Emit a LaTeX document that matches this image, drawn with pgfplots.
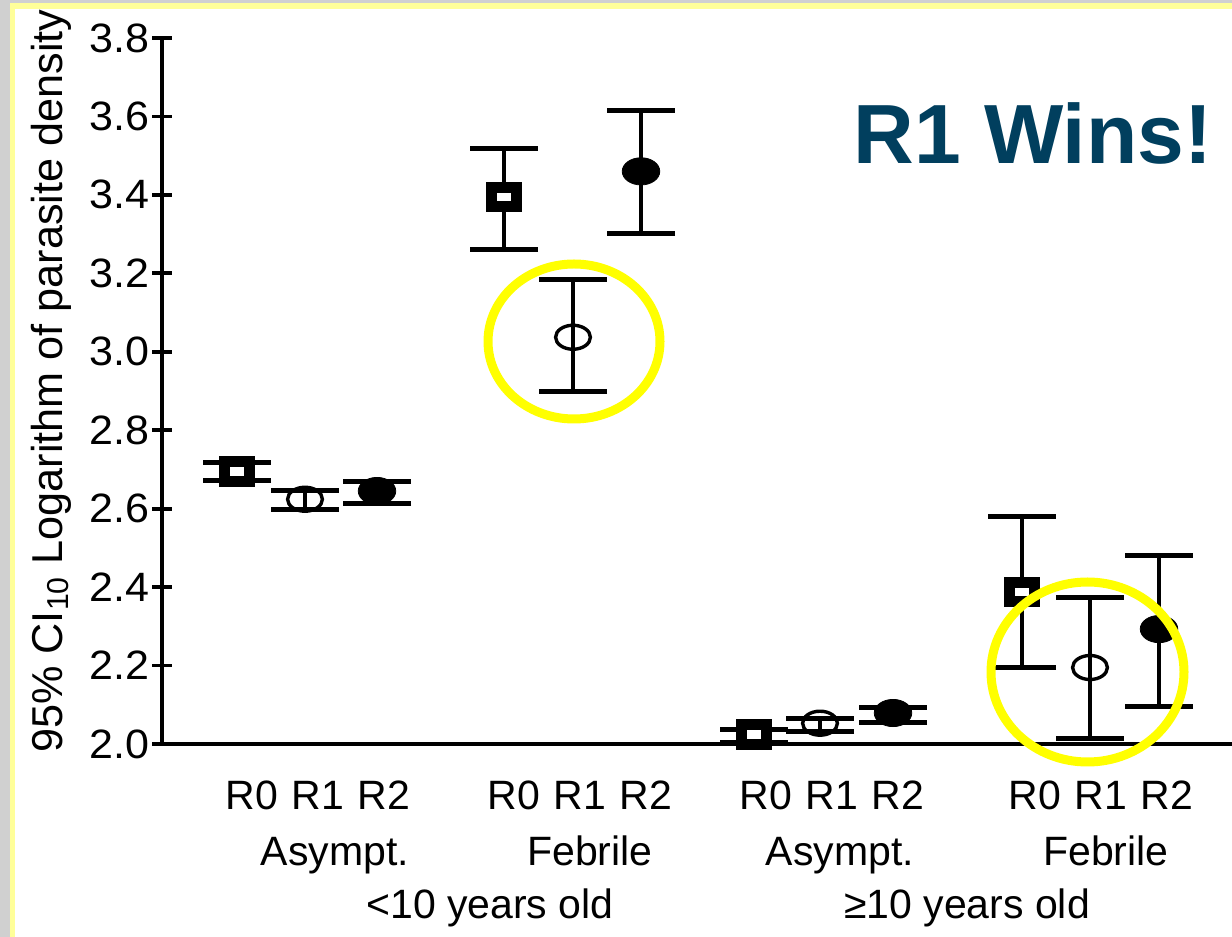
\documentclass[border=0pt]{standalone}
\usepackage{fontspec}
\setmainfont{Liberation Sans}
\usepackage{pgfplots}
\pgfplotsset{compat=1.18}
\usepackage{pgfplotstable}
\definecolor{titleblue}{RGB}{1,63,94}
\definecolor{frameyellow}{RGB}{255,255,153}
\definecolor{framegray}{RGB}{208,208,208}
\definecolor{hiyellow}{RGB}{255,255,0}

% x in picture columns, y = estimate, ep/em = upper/lower CI distance
\pgfplotstableread{
x y ep em
237 2.695 0.022 0.022
504 3.394 0.124 0.133
754 2.024 0.014 0.019
1022 2.387 0.192 0.193
}\rzero
\pgfplotstableread{
x y ep em
305 2.624 0.023 0.025
573 3.037 0.148 0.138
820 2.053 0.011 0.022
1090 2.195 0.178 0.182
}\rone
\pgfplotstableread{
x y ep em
377 2.645 0.023 0.031
641 3.460 0.155 0.158
893 2.079 0.013 0.023
1159 2.293 0.188 0.198
}\rtwo

\pgfplotsset{ebar/.style={draw=none, mark=none,
  error bars/.cd, y dir=both, y explicit,
  error bar style={draw=black, line width=2bp},
  error mark options={draw=black, line width=2.5bp, mark size=17bp, rotate=90}}}

\begin{document}
\begin{tikzpicture}
\useasboundingbox (0,0) rectangle (616bp,468.5bp);
\clip (0,0) rectangle (616bp,468.5bp);
\fill[white] (0,0) rectangle (616bp,468.5bp);
\fill[framegray] (0,0) rectangle (5bp,468.5bp);
\fill[framegray] (0,467bp) rectangle (616bp,468.5bp);
\fill[frameyellow] (5bp,0) rectangle (7.5bp,467bp);
\fill[frameyellow] (5bp,464bp) rectangle (616bp,467bp);

\begin{axis}[
  at={(81bp,96.5bp)}, anchor=south west,
  scale only axis, width=535bp, height=353bp,
  xmin=162, xmax=1232, ymin=2, ymax=3.8,
  axis x line=bottom, axis y line=left,
  axis line style={-, line width=1.9bp, black},
  ytick={2,2.2,2.4,2.6,2.8,3,3.2,3.4,3.6,3.8},
  /pgf/number format/assume math mode=true,
  yticklabel style={font=\fontsize{20.5bp}{24bp}\selectfont, inner sep=1bp, xscale=1.05,
    /pgf/number format/fixed, /pgf/number format/fixed zerofill,
    /pgf/number format/precision=1},
  tick align=center, major tick length=10bp,
  y tick style={line width=1.9bp, black},
  xtick={252,318,384,514,580,646,766,832,898,1035,1101,1167},
  xticklabels={R0,R1,R2,R0,R1,R2,R0,R1,R2,R0,R1,R2},
  x tick style={draw=none},
  xticklabel style={font=\fontsize{20.5bp}{24bp}\selectfont, anchor=base, inner sep=0pt, yshift=-28bp},
  clip=false,
]
\addplot[only marks, mark=square*, mark size=4.8bp,
  mark options={fill=white, draw=black, line width=5.5bp, xscale=1.3}]
  table[x=x, y=y]{\rzero};
\addplot[only marks, mark=o, mark size=6bp,
  mark options={fill=white, draw=black, line width=1.7bp, xscale=1.45}]
  table[x=x, y=y]{\rone};
\addplot[only marks, mark=*, mark size=6.8bp,
  mark options={fill=black, draw=black, xscale=1.38}]
  table[x=x, y=y]{\rtwo};
\addplot[ebar] table[x=x, y=y, y error plus=ep, y error minus=em]{\rzero};
\addplot[ebar] table[x=x, y=y, y error plus=ep, y error minus=em]{\rone};
\addplot[ebar] table[x=x, y=y, y error plus=ep, y error minus=em]{\rtwo};
\end{axis}

\node[rotate=90, anchor=base west, inner sep=0pt, font=\fontsize{21.6bp}{26bp}\selectfont]
  at (31bp,92bp) {95\% CI\textsubscript{10} Logarithm of parasite density};

\begin{scope}[every node/.style={anchor=base, inner sep=0pt, font=\fontsize{20.5bp}{24bp}\selectfont}]
\node at (167.5bp,36bp) {Asympt.};
\node at (295bp,36bp) {Febrile};
\node at (420bp,36bp) {Asympt.};
\node at (553bp,36bp) {Febrile};
\node at (245bp,9.5bp) {<10 years old};
\node at (483.5bp,9.5bp) {≥10 years old};
\end{scope}

\node[anchor=base west, inner sep=0pt, text=titleblue, font=\fontsize{42bp}{48bp}\selectfont\bfseries]
  at (426.5bp,386.5bp) {R1 Wins!};

\draw[hiyellow, line width=4.5bp] (287bp,297.75bp) ellipse [x radius=43bp, y radius=38.75bp];
\draw[hiyellow, line width=4.5bp] (543.75bp,132.5bp) ellipse [x radius=48.25bp, y radius=45bp];
\end{tikzpicture}
\end{document}
